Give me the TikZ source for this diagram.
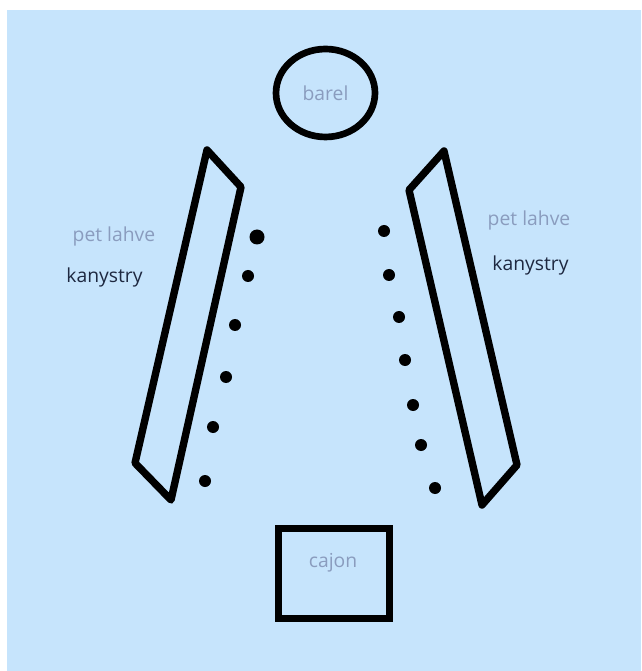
\documentclass[tikz,border=0pt]{standalone}
\usepackage{fontspec}
\setmainfont{Open Sans}
\usetikzlibrary{shapes.geometric}
\definecolor{floor}{RGB}{198,228,252}
\definecolor{paletext}{RGB}{138,156,190}
\definecolor{darktext}{RGB}{30,40,64}

\begin{document}
\begin{tikzpicture}[x=0.02cm, y=-0.02cm,
    thick line/.style={line width=4.2pt, line join=round},
    pale label/.style={text=paletext, font=\fontsize{11}{13}\selectfont, inner sep=0pt},
    dark label/.style={text=darktext, font=\fontsize{11}{13}\selectfont, inner sep=0pt}]
  \useasboundingbox (0,0) rectangle (641,671);
  \fill[white] (0,0) rectangle (641,671);
  \fill[floor] (7,10) rectangle (641,671);
  % barel
  \node[draw, ellipse, line width=3.8pt, minimum width=1.98cm, minimum height=1.76cm, pale label] (barel) at (325.5,93) {barel};
  % lavice
  \draw[thick line] (207,150) -- (241,187) -- (171,500) -- (135,463) -- cycle;
  \draw[thick line] (444,151) -- (517,465) -- (482,505) -- (409,190) -- cycle;
  % zidle
  \fill (257,237) circle (7.5);
  \foreach \x/\y in {248/276, 235/325, 226/377, 213/427, 205/481}
    \fill (\x,\y) circle (6);
  \foreach \x/\y in {384/231, 389/275, 399/317, 405/360, 413/405, 421/445, 435/488}
    \fill (\x,\y) circle (6);
  % popisky
  \node[pale label] (petleft) at (114,236) {pet lahve};
  \node[dark label] (kanleft) at (104.5,277) {kanystry};
  \node[pale label] (petright) at (529,220) {pet lahve};
  \node[dark label] (kanright) at (530.5,265) {kanystry};
  % cajon
  \node[draw, rectangle, line width=4.2pt, minimum width=2.22cm, minimum height=1.8cm, pale label] (cajon) at (334,573.5) {};
  \node[pale label] (cajontext) at (333,563) {cajon};
\end{tikzpicture}
\end{document}
